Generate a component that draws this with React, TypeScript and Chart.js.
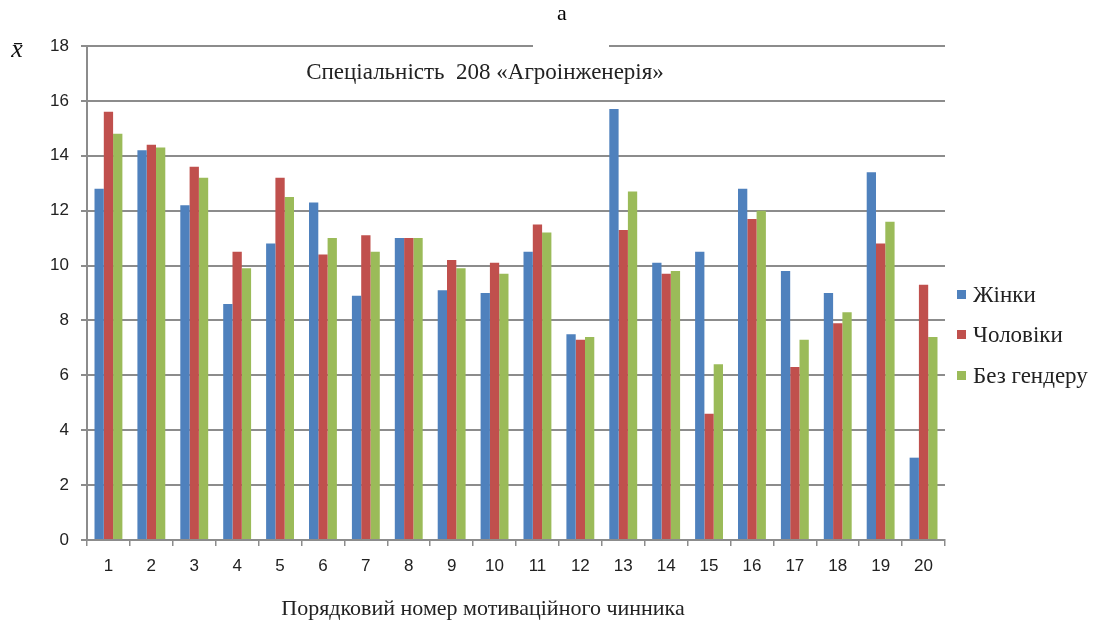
import React, { useEffect, useRef } from 'react';
import { Chart, registerables } from 'chart.js';

Chart.register(...registerables);

const categories = ['1', '2', '3', '4', '5', '6', '7', '8', '9', '10', '11', '12', '13', '14', '15', '16', '17', '18', '19', '20'];
const women = [12.8, 14.2, 12.2, 8.6, 10.8, 12.3, 8.9, 11.0, 9.1, 9.0, 10.5, 7.5, 15.7, 10.1, 10.5, 12.8, 9.8, 9.0, 13.4, 3.0];
const men = [15.6, 14.4, 13.6, 10.5, 13.2, 10.4, 11.1, 11.0, 10.2, 10.1, 11.5, 7.3, 11.3, 9.7, 4.6, 11.7, 6.3, 7.9, 10.8, 9.3];
const noGender = [14.8, 14.3, 13.2, 9.9, 12.5, 11.0, 10.5, 11.0, 9.9, 9.7, 11.2, 7.4, 12.7, 9.8, 6.4, 12.0, 7.3, 8.3, 11.6, 7.4];
const seriesLabels = ['Жінки', 'Чоловіки', 'Без гендеру'];
const seriesColors = ['#4F81BD', '#C0504D', '#9BBB59'];
const yMin = 0;
const yMax = 18;
const yStep = 2;
const panelLabel = 'a';
const subtitle = 'Спеціальність  208 «Агроінженерія»';
const yAxisSymbol = 'x̄';
const xAxisTitle = 'Порядковий номер мотиваційного чинника';

const SERIF = "'Liberation Serif', 'Times New Roman', serif";
const NARROW = "'Liberation Sans Narrow', 'Liberation Sans', sans-serif";
const GRID = '#8c8c8c';

const extras = {
  id: 'extras',
  afterDraw(chart: any) {
    const ctx = chart.ctx;
    const area = chart.chartArea;
    ctx.save();
    // gap in the top gridline behind the panel label
    ctx.fillStyle = '#ffffff';
    ctx.fillRect(533, area.top - 4, 76, 8);
    ctx.fillStyle = '#000000';
    ctx.textAlign = 'center';
    ctx.textBaseline = 'middle';
    ctx.font = `22px ${SERIF}`;
    ctx.fillText(panelLabel, 562, 14);
    ctx.font = `23px ${SERIF}`;
    ctx.fillStyle = '#222222';
    ctx.fillText(subtitle, 485, 73);
    ctx.font = `italic 26px ${SERIF}`;
    ctx.fillStyle = '#111111';
    ctx.fillText(yAxisSymbol, 17, 50);
    // x-axis title
    ctx.font = `22px ${SERIF}`;
    ctx.fillStyle = '#222222';
    ctx.fillText(xAxisTitle, 483, 609);
    // legend
    ctx.textAlign = 'left';
    ctx.font = `23px ${SERIF}`;
    const ys = [295, 335, 376];
    chart.data.datasets.forEach((ds: any, i: number) => {
      ctx.fillStyle = ds.backgroundColor;
      ctx.fillRect(957, ys[i] - 5, 9, 9);
      ctx.fillStyle = '#222222';
      ctx.fillText(ds.label, 973, ys[i] + 1);
    });
    ctx.restore();
  },
};

export default function App() {
  const ref = useRef<HTMLCanvasElement | null>(null);
  useEffect(() => {
    if (!ref.current) return;
    const chart = new Chart(ref.current, {
      type: 'bar',
      data: {
        labels: categories,
        datasets: [
          { label: seriesLabels[0], data: women, backgroundColor: seriesColors[0] },
          { label: seriesLabels[1], data: men, backgroundColor: seriesColors[1] },
          { label: seriesLabels[2], data: noGender, backgroundColor: seriesColors[2] },
        ],
      },
      options: {
        responsive: false,
        animation: false,
        devicePixelRatio: 1,
        datasets: { bar: { categoryPercentage: 0.65, barPercentage: 1.0 } },
        layout: { padding: { left: 0, top: 46, right: 148, bottom: 0 } },
        plugins: { legend: { display: false }, tooltip: { enabled: false } },
        scales: {
          x: {
            afterFit: (s: any) => { s.height = 86; },
            grid: { display: true, drawOnChartArea: false, drawTicks: true, tickLength: 6, color: GRID, lineWidth: 1.5 },
            border: { color: GRID, width: 2 },
            ticks: { color: '#222', font: { family: NARROW, size: 17 }, padding: 10, maxRotation: 0 },
          },
          y: {
            min: yMin,
            max: yMax,
            afterFit: (s: any) => { s.width = 87; },
            ticks: { stepSize: yStep, color: '#222', font: { family: NARROW, size: 17 }, padding: 12 },
            grid: { color: GRID, lineWidth: 2, tickLength: 6 },
            border: { color: GRID, width: 2 },
          },
        },
      },
      plugins: [extras],
    });
    return () => chart.destroy();
  }, []);
  return (
    <div style={{ position: 'absolute', left: 0, top: 0, width: 1093, height: 626, background: '#fff' }}>
      <canvas ref={ref} width={1093} height={626} style={{ display: 'block' }} />
    </div>
  );
}
